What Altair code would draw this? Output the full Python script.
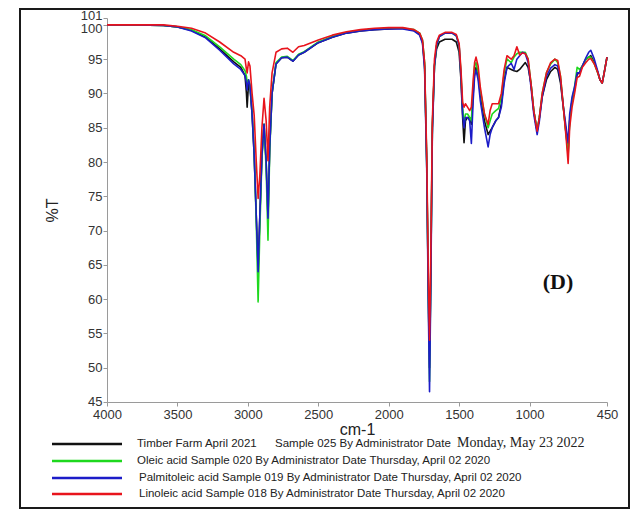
import altair as alt
import pandas as pd

# ---------------- data ----------------
wavenumber = [
    4000, 3800, 3600, 3500, 3400, 3300, 3200, 3100, 3050, 3020,
    3010, 3005, 2995, 2985, 2970, 2955, 2940, 2927, 2915, 2900,
    2885, 2870, 2857, 2845, 2828, 2800, 2760, 2720, 2680, 2640,
    2600, 2500, 2400, 2300, 2200, 2100, 2000, 1900, 1820, 1780,
    1760, 1745, 1730, 1718, 1710, 1702, 1690, 1675, 1660, 1640,
    1600, 1550, 1520, 1500, 1487, 1475, 1465, 1455, 1440, 1425,
    1413, 1400, 1390, 1380, 1365, 1350, 1320, 1294, 1280, 1265,
    1240, 1220, 1200, 1180, 1160, 1130, 1110, 1090, 1070, 1050,
    1030, 1010, 990, 970, 946, 930, 910, 880, 850, 820,
    800, 780, 760, 740, 726, 715, 698, 680, 662, 645,
    625, 600, 580, 565, 540, 515, 500, 484, 470, 450,
]

timber_T = [
    100.0, 100.0, 99.9, 99.7, 99.2, 98.2, 96.5, 94.6, 93.8, 92.6,
    90.0, 88.0, 91.5, 91.0, 87.0, 81.0, 72.0, 64.5, 72.0, 81.0,
    85.5, 80.0, 72.0, 82.0, 90.0, 94.3, 95.2, 95.3, 94.7, 95.6,
    96.0, 97.4, 98.2, 98.8, 99.1, 99.3, 99.4, 99.5, 99.2, 98.6,
    97.5, 94.0, 80.0, 60.0, 50.0, 62.0, 85.0, 94.0, 96.5, 97.5,
    97.9, 97.9, 97.5, 96.0, 92.0, 86.5, 82.8, 86.0, 86.5, 86.5,
    85.5, 90.0, 93.0, 93.8, 92.5, 90.0, 86.0, 84.0, 84.5, 85.0,
    86.0, 86.5, 88.5, 92.0, 93.8, 93.5, 93.3, 93.2, 93.5, 94.0,
    94.5, 93.8, 91.5, 87.5, 84.5, 86.5, 89.5, 92.0, 93.2, 93.8,
    93.5, 91.5, 88.0, 84.0, 81.5, 86.0, 89.0, 90.5, 92.8, 93.0,
    94.0, 95.0, 95.3, 95.5, 94.5, 93.0, 92.0, 91.5, 93.0, 95.3,
]

oleic_T = [
    100.0, 100.0, 99.9, 99.7, 99.3, 98.4, 96.8, 95.0, 94.2, 93.3,
    92.5, 91.5, 92.0, 91.3, 87.5, 81.5, 71.0, 59.6, 70.0, 80.5,
    85.5, 79.0, 68.6, 81.5, 90.0, 94.5, 95.3, 95.4, 94.8, 95.7,
    96.1, 97.5, 98.3, 98.9, 99.2, 99.4, 99.5, 99.5, 99.3, 98.8,
    97.8, 94.5, 80.0, 60.0, 48.0, 62.0, 85.0, 94.0, 97.0, 98.3,
    98.8, 98.8, 98.4, 97.0, 93.0, 88.0, 85.5, 87.0, 87.0, 86.5,
    86.0, 91.0, 94.0, 94.5, 93.0, 90.5, 87.0, 85.0, 86.0, 87.0,
    87.5, 87.8, 89.5, 93.0, 95.0, 94.5, 95.3, 95.8, 96.0, 96.0,
    96.0, 95.0, 91.5, 87.5, 84.5, 86.5, 90.0, 93.0, 94.3, 95.0,
    94.5, 92.5, 88.0, 84.0, 81.0, 86.0, 89.0, 91.0, 93.8, 93.5,
    94.0, 95.0, 95.3, 95.3, 94.3, 93.0, 92.0, 91.5, 93.0, 95.3,
]

palmitoleic_T = [
    100.0, 100.0, 99.9, 99.7, 99.1, 98.1, 96.3, 94.3, 93.5, 92.6,
    91.5, 90.5, 92.0, 91.2, 87.0, 81.0, 72.0, 64.0, 72.0, 81.0,
    85.5, 80.0, 71.8, 82.0, 90.0, 94.3, 95.2, 95.3, 94.7, 95.6,
    96.0, 97.4, 98.2, 98.8, 99.1, 99.3, 99.4, 99.4, 99.1, 98.5,
    97.3, 93.5, 79.0, 58.0, 46.5, 60.0, 84.0, 94.0, 97.0, 98.3,
    98.8, 98.8, 98.4, 97.0, 92.5, 87.0, 85.0, 86.5, 86.5, 86.0,
    82.7, 89.0, 92.5, 93.4, 92.0, 89.0, 85.0, 82.2, 84.0, 85.0,
    86.0, 86.5, 88.0, 91.5, 93.8, 94.4, 93.5, 95.0, 95.5, 96.0,
    95.8, 94.5, 91.0, 87.0, 84.0, 86.0, 89.5, 92.5, 93.7, 94.2,
    94.0, 92.0, 88.0, 85.0, 82.8, 87.0, 89.5, 91.0, 93.0, 93.0,
    94.0, 95.2, 96.0, 96.3, 95.0, 93.2, 92.0, 91.5, 93.0, 95.3,
]

linoleic_T = [
    100.0, 100.0, 100.0, 99.8, 99.5, 98.8, 97.5, 96.0, 95.5, 95.0,
    93.5, 93.0, 94.6, 94.0, 90.0, 86.8, 80.0, 74.7, 78.0, 85.0,
    89.3, 86.0, 80.2, 88.0, 93.0, 96.0, 96.5, 96.6, 96.0, 96.8,
    97.0, 97.8, 98.5, 99.0, 99.3, 99.5, 99.6, 99.6, 99.3, 98.8,
    97.8, 94.5, 81.0, 63.0, 54.0, 65.0, 86.0, 95.0, 97.5, 98.5,
    98.9, 98.9, 98.6, 97.3, 93.5, 88.7, 88.0, 88.5, 88.0, 87.5,
    88.0, 92.0, 94.5, 95.3, 94.0, 91.0, 87.0, 85.5, 87.5, 88.5,
    88.5, 88.5, 90.0, 93.5, 95.5, 95.0, 95.5, 96.8, 95.6, 95.9,
    95.8, 95.0, 91.5, 87.5, 84.5, 86.5, 90.0, 93.0, 94.5, 95.0,
    94.8, 92.5, 88.0, 83.5, 79.8, 85.0, 88.0, 90.0, 92.3, 92.5,
    93.8, 94.5, 95.0, 95.1, 94.3, 93.0, 92.0, 91.5, 93.0, 95.3,
]

series_values = [timber_T, oleic_T, palmitoleic_T, linoleic_T]
series_colors = ["#111111", "#1ed81e", "#1c1cc8", "#e8141c"]
legend_labels = [
    "Timber Farm April 2021",
    "Oleic acid  Sample 020 By Administrator Date Thursday, April 02 2020",
    "Palmitoleic acid Sample 019 By Administrator Date Thursday, April 02 2020",
    "Linoleic acid  Sample 018 By Administrator Date Thursday, April 02 2020",
]
legend_first_mid = "Sample 025 By Administrator Date"
legend_first_date = "Monday, May 23 2022"

x_ticks = [4000, 3500, 3000, 2500, 2000, 1500, 1000, 450]
y_ticks = [45, 50, 55, 60, 65, 70, 75, 80, 85, 90, 95, 100, 101]

# ---------------- chart ----------------
SANS = "Liberation Sans"
SERIF = "Liberation Serif"

x_enc = alt.X(
    "wn:Q",
    scale=alt.Scale(domain=[4000, 450], nice=False, zero=False),
    axis=alt.Axis(
        values=x_ticks, format="d", title="cm-1", grid=False, labelFont=SANS, labelFontSize=13,
        labelColor="#333333", titleFont=SANS, titleFontSize=16, titleFontWeight="normal",
        titleColor="#222222", titlePadding=0, domainColor="#9a9a9a", tickColor="#9a9a9a",
        tickSize=4, labelPadding=2, labelFlush=False,
    ),
)
y_enc = alt.Y(
    "T:Q",
    scale=alt.Scale(domain=[45, 101], nice=False, zero=False),
    axis=alt.Axis(
        values=y_ticks, format="d", title="%T", grid=False, labelFont=SANS, labelFontSize=13,
        labelColor="#333333", titleFont=SANS, titleFontSize=16, titleFontWeight="normal",
        titleColor="#222222", titlePadding=20, domainColor="#9a9a9a", tickColor="#9a9a9a",
        tickSize=4, labelPadding=1, labelOverlap=False, labelFlush=False,
        labelOffset=alt.ExprRef(
            expr="datum.value == 100 ? 4 : (datum.value == 101 ? -3 : (datum.value == 45 ? -1 : 0))"
        ),
    ),
)

layers = []
for vals, col in zip(series_values, series_colors):
    df = pd.DataFrame({"wn": wavenumber, "T": vals})
    layers.append(
        alt.Chart(df).mark_line(color=col, strokeWidth=1.6, strokeJoin="round").encode(
            x=x_enc, y=y_enc
        )
    )

dummy = pd.DataFrame({"a": [0]})

# outer frame
frame = alt.Chart(dummy).mark_rect(
    fillOpacity=0, stroke="#1a1a1a", strokeWidth=2
).encode(x=alt.value(-87), x2=alt.value(522), y=alt.value(-9), y2=alt.value(490))
layers.append(frame)

# panel label
layers.append(
    alt.Chart(dummy).mark_text(
        font=SERIF, fontSize=22, fontWeight="bold", color="#111111", align="center", baseline="middle"
    ).encode(x=alt.value(451), y=alt.value(264), text=alt.value("(D)"))
)

# legend
row_y = [426, 443, 460, 476]
text_x = [30, 30, 32, 32]
for i, (col, lab) in enumerate(zip(series_colors, legend_labels)):
    layers.append(
        alt.Chart(dummy).mark_rule(color=col, strokeWidth=2.5).encode(
            x=alt.value(-55), x2=alt.value(15), y=alt.value(row_y[i])
        )
    )
    layers.append(
        alt.Chart(dummy).mark_text(
            font=SANS, fontSize=11.5, color="#222222", align="left", baseline="middle"
        ).encode(x=alt.value(text_x[i]), y=alt.value(row_y[i]), text=alt.value(lab))
    )
layers.append(
    alt.Chart(dummy).mark_text(
        font=SANS, fontSize=11.5, color="#222222", align="left", baseline="middle"
    ).encode(x=alt.value(168), y=alt.value(row_y[0]), text=alt.value(legend_first_mid))
)
layers.append(
    alt.Chart(dummy).mark_text(
        font=SERIF, fontSize=14, color="#222222", align="left", baseline="middle"
    ).encode(x=alt.value(350), y=alt.value(row_y[0] - 1), text=alt.value(legend_first_date))
)

chart = (
    alt.layer(*layers)
    .properties(
        width=500,
        height=384,
        padding={"left": 99, "top": 10, "right": 24, "bottom": 107},
        autosize=alt.AutoSizeParams(type="none"),
    )
    .configure_view(stroke=None)
)

chart.save("out.html", embed_options={"renderer": "svg", "actions": False})
